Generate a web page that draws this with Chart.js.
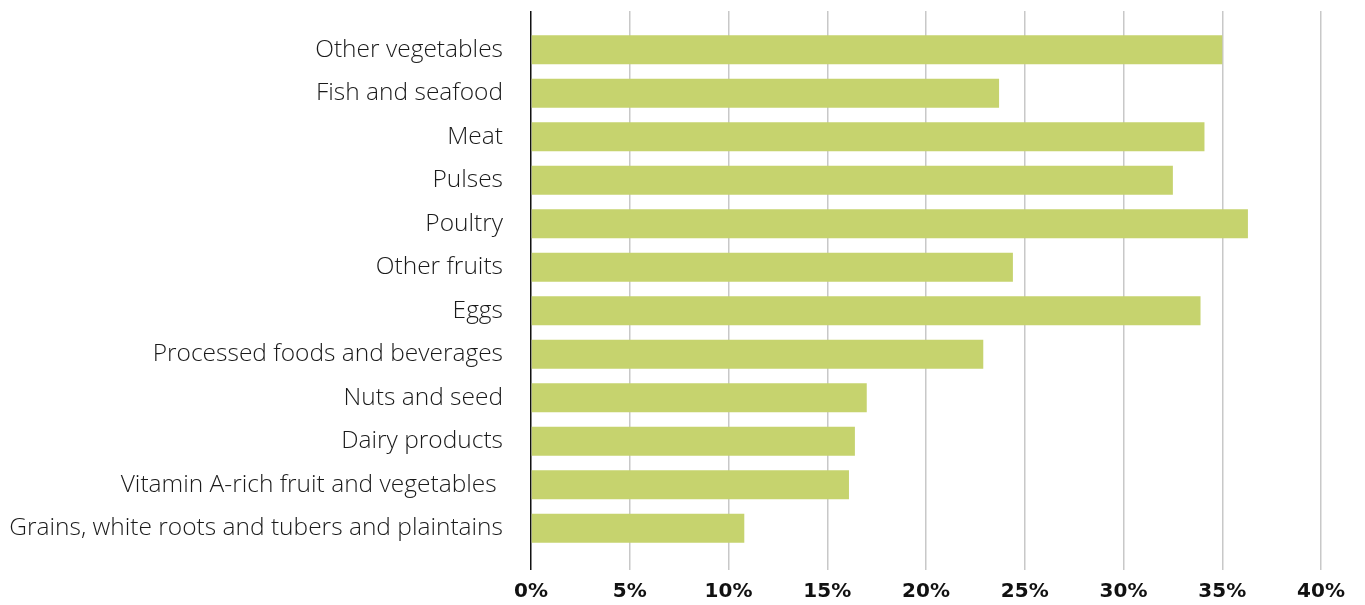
<!DOCTYPE html>
<html>
<head>
<meta charset="utf-8">
<script src="https://cdn.jsdelivr.net/npm/chart.js@4"></script>
<style>
  html, body { margin: 0; padding: 0; background: #fff; }
  #wrap { width: 1365px; height: 605px; }
</style>
</head>
<body>
<div id="wrap"><canvas id="chart"></canvas></div>
<script>
// Datos (porcentaje)
const categories = [
  'Other vegetables',
  'Fish and seafood',
  'Meat',
  'Pulses',
  'Poultry',
  'Other fruits',
  'Eggs',
  'Processed foods and beverages',
  'Nuts and seed',
  'Dairy products',
  'Vitamin A-rich fruit and vegetables ',
  'Grains, white roots and tubers and plaintains'
];
const shares = [35.0, 23.7, 34.1, 32.5, 36.3, 24.4, 33.9, 22.9, 17.0, 16.4, 16.1, 10.8];
const xTicks = [0, 5, 10, 15, 20, 25, 30, 35, 40];

const BAR_COLOR = '#c6d36e';
const GRID_COLOR = '#c8c8c8';

// Línea del 0 en negro, resto gris
const gridColor = ctx => (ctx.tick && ctx.tick.value === 0 ? '#111' : GRID_COLOR);

new Chart(document.getElementById('chart'), {
  type: 'bar',
  data: {
    labels: categories,
    datasets: [{
      data: shares,
      backgroundColor: BAR_COLOR,
      borderWidth: 0,
      categoryPercentage: 1,
      barPercentage: 0.666
    }]
  },
  options: {
    indexAxis: 'y',
    responsive: true,
    maintainAspectRatio: false,
    animation: false,
    layout: { padding: { top: 11, right: 44, bottom: 0, left: 0 } },
    plugins: { legend: { display: false }, tooltip: { enabled: false } },
    scales: {
      x: {
        position: 'bottom',
        min: 0,
        max: 40,
        afterBuildTicks: s => { s.ticks = xTicks.map(v => ({ value: v })); },
        border: { display: false },
        grid: { color: gridColor, lineWidth: 1.5, drawTicks: true, tickLength: 20 },
        ticks: {
          padding: 10,
          color: '#111',
          font: { family: 'DejaVu Sans', size: 20, weight: 'bold' },
          callback: v => v + '%'
        },
        afterFit: s => { s.height = 55; }
      },
      x2: {
        position: 'top',
        min: 0,
        max: 40,
        afterBuildTicks: s => { s.ticks = xTicks.map(v => ({ value: v })); },
        border: { display: false },
        grid: { color: gridColor, lineWidth: 1.5, drawOnChartArea: false, drawTicks: true, tickLength: 17 },
        ticks: { display: false },
        afterFit: s => { s.height = 17; }
      },
      y: {
        border: { display: false },
        grid: { display: false, drawTicks: false },
        ticks: {
          padding: 28,
          color: '#1a1a1a',
          font: { family: 'Open Sans', size: 24.5, weight: 300 }
        },
        afterFit: s => {
          s.width = 531;
          s.paddingTop = 0;
          s.paddingBottom = 0;
        }
      }
    }
  }
});
</script>
</body>
</html>
